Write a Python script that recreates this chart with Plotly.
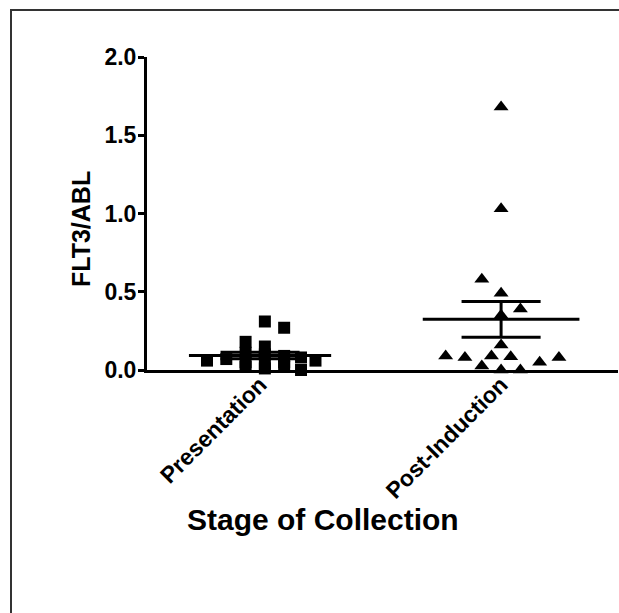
import numpy as np
import plotly.graph_objects as go

# ---- data ----
categories = ["Presentation", "Post-Induction"]

pres_values = [0.31, 0.27, 0.18, 0.15, 0.11, 0.10, 0.09, 0.08, 0.07, 0.06,
               0.06, 0.05, 0.05, 0.04, 0.02, 0.01, 0.02, 0.00]
pres_spread = [0.02, 0.10, -0.06, 0.02, -0.06, 0.02, 0.10, 0.17, -0.14, -0.22,
               0.23, -0.06, 0.10, 0.02, -0.06, 0.02, 0.10, 0.17]

post_values = [1.68, 1.03, 0.58, 0.49, 0.39, 0.35, 0.16, 0.09, 0.08, 0.09,
               0.085, 0.05, 0.08, 0.025, 0.0, 0.0]
post_spread = [0.0, 0.0, -0.08, 0.0, 0.08, 0.0, 0.0, -0.23, -0.15, -0.04,
               0.04, 0.16, 0.24, -0.08, 0.0, 0.08]

y_ticks = [0.0, 0.5, 1.0, 1.5, 2.0]
y_ticktext = ["0.0", "0.5", "1.0", "1.5", "2.0"]

x_title = "Stage of Collection"
y_title = "FLT3/ABL"

FONT = "Liberation Sans, Arial, sans-serif"

fig = go.Figure()

groups = [(0, pres_values, pres_spread, "square", 12),
          (1, post_values, post_spread, "triangle-up", 13)]

for idx, vals, spread, sym, sz in groups:
    fig.add_trace(go.Scatter(
        x=[idx + s for s in spread], y=vals, mode="markers",
        marker=dict(symbol=sym, size=sz, color="black", line=dict(width=0)),
        cliponaxis=False, showlegend=False, hoverinfo="y"))

mean_half = [0.295, 0.325]
cap_half = 0.164
for idx, vals, spread, sym, sz in groups:
    arr = np.array(vals)
    m = arr.mean()
    sem = arr.std(ddof=1) / np.sqrt(len(arr))
    fig.add_trace(go.Scatter(x=[idx - mean_half[idx], idx + mean_half[idx]], y=[m, m],
                             mode="lines", line=dict(color="black", width=3),
                             cliponaxis=False, showlegend=False, hoverinfo="skip"))
    fig.add_trace(go.Scatter(x=[idx, idx], y=[m - sem, m + sem],
                             mode="lines", line=dict(color="black", width=3),
                             cliponaxis=False, showlegend=False, hoverinfo="skip"))
    for yy in (m - sem, m + sem):
        fig.add_trace(go.Scatter(x=[idx - cap_half, idx + cap_half], y=[yy, yy],
                                 mode="lines", line=dict(color="black", width=3),
                                 cliponaxis=False, showlegend=False, hoverinfo="skip"))

# body margin is removed by the post script, so the figure fills the window
W, H = 619, 613
L, R, T = 147, 1, 57
B = H - 370
pw = W - L - R
ph = H - T - B


def px(xp):
    return (xp - L) / pw


def py(yp):
    return (H - B - yp) / ph


fig.update_layout(
    width=W, height=H,
    margin=dict(l=L, r=R, t=T, b=B, autoexpand=False),
    paper_bgcolor="white", plot_bgcolor="white",
    font=dict(family=FONT, color="black"),
    xaxis=dict(
        range=[-0.469, 1.485], showgrid=False, zeroline=False,
        showline=True, linecolor="black", linewidth=3,
        ticks="", tickmode="array", tickvals=[0, 1], ticktext=categories,
        tickangle=-45, ticklabelstandoff=-11,
        tickfont=dict(family=FONT, size=23, weight="bold"),
        automargin=False, fixedrange=True),
    yaxis=dict(
        range=[0, 2], showgrid=False, zeroline=False,
        showline=True, linecolor="black", linewidth=3,
        ticks="outside", ticklen=6, tickwidth=3, tickcolor="black",
        tickmode="array", tickvals=y_ticks, ticktext=y_ticktext,
        ticklabelstandoff=-3,
        tickfont=dict(family=FONT, size=23, weight="bold"),
        automargin=False, fixedrange=True),
    annotations=[
        dict(text=x_title, xref="paper", yref="paper", x=px(323), y=py(519),
             xanchor="center", yanchor="middle", showarrow=False,
             font=dict(family=FONT, size=30, weight="bold")),
        dict(text=y_title, xref="paper", yref="paper", x=px(81), y=py(229),
             xanchor="center", yanchor="middle", showarrow=False, textangle=-90,
             font=dict(family=FONT, size=25, weight="bold")),
    ],
    shapes=[dict(type="rect", xref="paper", yref="paper",
                 x0=px(11), x1=px(660), y0=py(660), y1=py(10),
                 line=dict(color="#333333", width=2), fillcolor="rgba(0,0,0,0)",
                 layer="below")],
)

fig.write_html(
    "out.html",
    config={"displayModeBar": False},
    post_script="document.body.style.margin='0';"
                "document.documentElement.style.overflow='hidden';"
                "document.body.style.overflow='hidden';",
)
